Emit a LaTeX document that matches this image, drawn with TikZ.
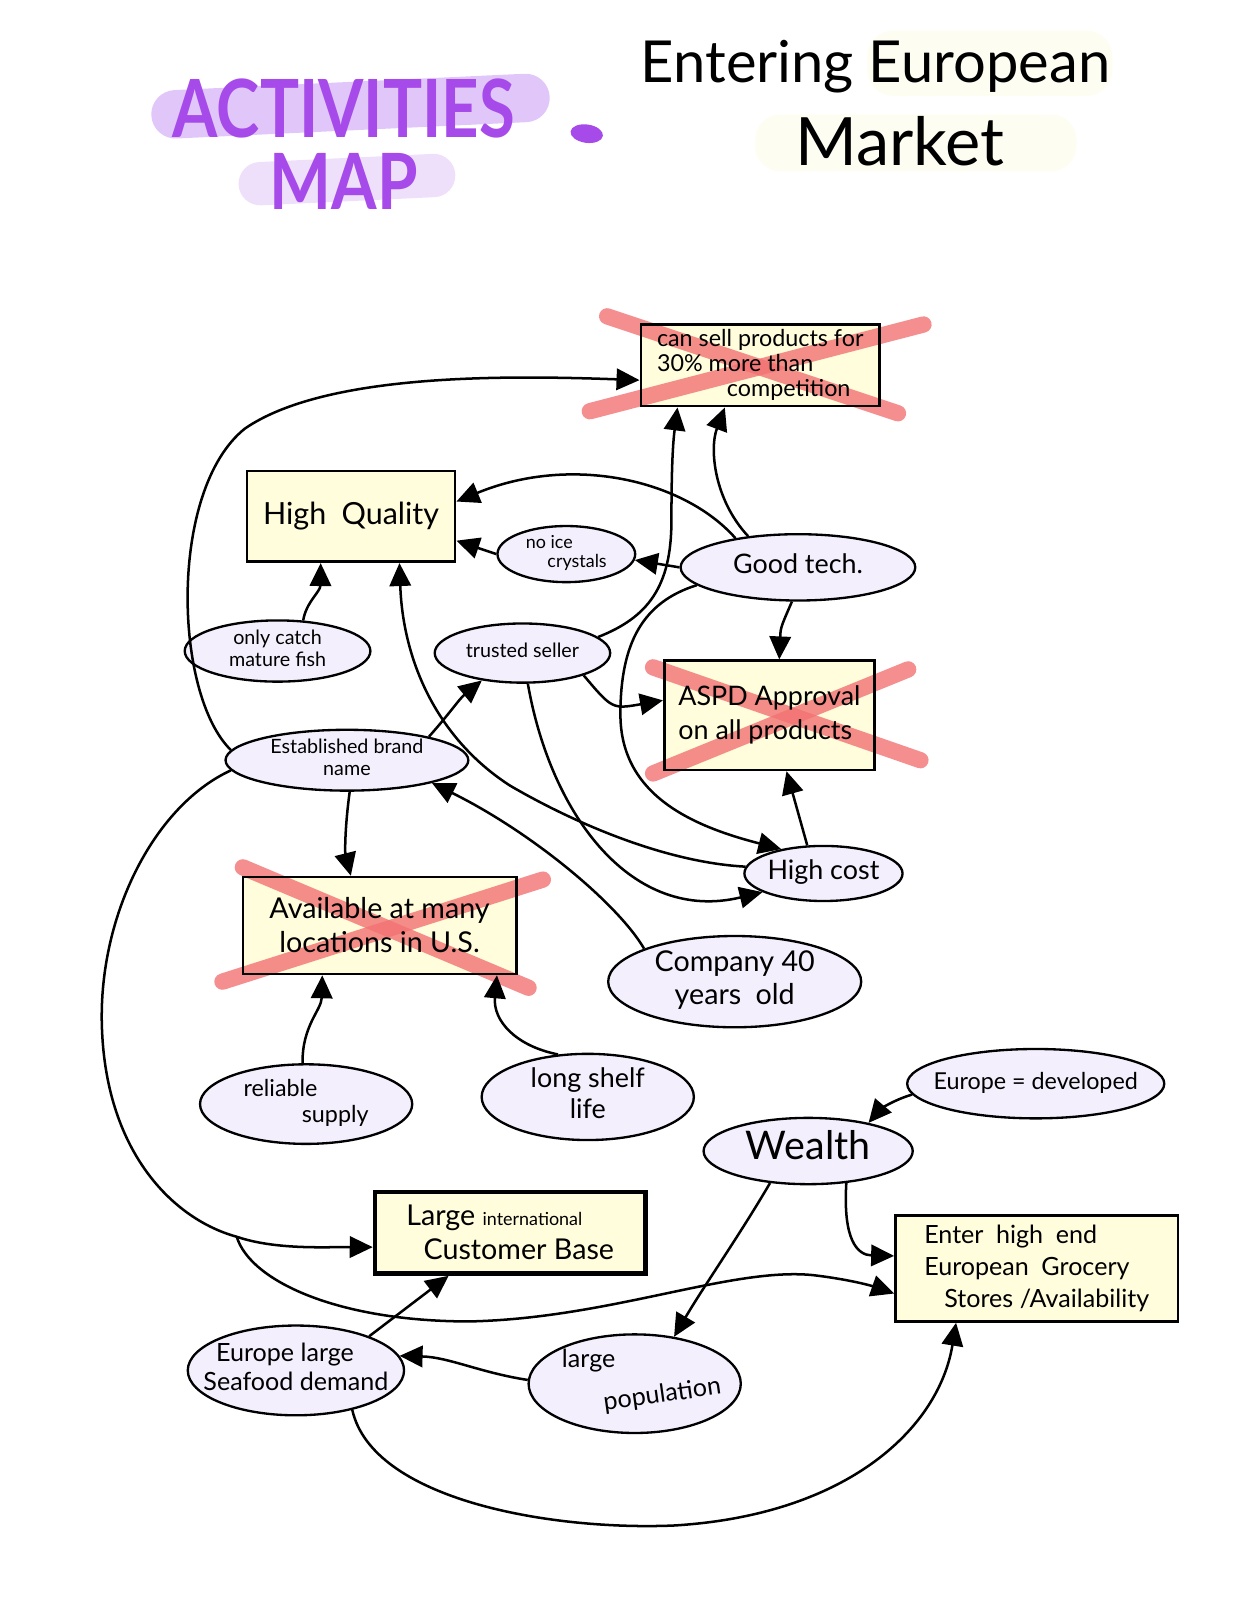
\documentclass[tikz,border=0pt]{standalone}
\usepackage{fontspec}
\setmainfont{Lato}
\usepackage{tikz}
\usetikzlibrary{shapes.geometric, arrows.meta, positioning, backgrounds, calc}
\definecolor{MapPurple}{HTML}{A64BEA}
\definecolor{MapBand}{HTML}{D9B9F7}
\definecolor{MapBandLight}{HTML}{EEE0FA}
\definecolor{TitleCream}{HTML}{FEFDF1}
\definecolor{BoxYellow}{HTML}{FFFDDC}
\definecolor{BubbleLilac}{HTML}{F4EFFC}
\definecolor{CrossRed}{HTML}{F27272}
\newcommand{\bubtext}[2][c]{\makebox[0pt]{\begin{tabular}{@{}#1@{}}#2\end{tabular}}}
\tikzset{
  box/.style={draw, line width=1.5pt, rectangle, inner sep=0pt},
  bubble/.style={draw, line width=1.3pt, ellipse, fill=BubbleLilac, inner sep=0pt},
  link/.style={-{Triangle[length=0.45cm,width=0.42cm]}, line width=1.4pt},
  crossout/.style={CrossRed, line width=0.32cm, line cap=round, opacity=0.8},
}

\begin{document}
\begin{tikzpicture}[x=0.02cm, y=-0.02cm]
\useasboundingbox (0,0) rectangle (1214,1568);
% --- Title ---
\draw[MapBand, line width=0.95cm, line cap=round, opacity=0.8] (172,112) -- (515,96);
\draw[MapBandLight, line width=0.85cm, line cap=round] (255,180) -- (425,172);
\fill[TitleCream, rounded corners=0.5cm] (850,30) rectangle (1090,94);
\fill[TitleCream, rounded corners=0.5cm] (740,112) rectangle (1055,168);
\node[text=MapPurple] (acttitle) at (337,106) {\resizebox{6.7cm}{1.15cm}{\bfseries ACTIVITIES}};
\node[text=MapPurple] (maptitle) at (337,178) {\resizebox{2.9cm}{1.1cm}{\bfseries MAP}};
\fill[MapPurple, rotate around={-8:(575,131)}] (575,131) ellipse (0.32cm and 0.18cm);
\node (enttitle) at (858,65) {\resizebox{9.2cm}{!}{Entering European}};
\node (mkttitle) at (882,138) {\resizebox{4.1cm}{!}{Market}};

% --- Boxes ---
\node[box, minimum width=4.68cm, minimum height=1.6cm, align=left, font=\fontsize{13}{14}\selectfont] (cansell) at (745,358) {can sell products for\\30\% more than\\\hspace*{3em}competition};
\node[box, minimum width=4.08cm, minimum height=1.78cm, font=\fontsize{17}{20}\selectfont] (hq) at (344,506) {High\enspace Quality};
\node[box, minimum width=4.12cm, minimum height=2.14cm, align=left, font=\fontsize{15}{19}\selectfont] (aspd) at (754,701) {ASPD Approval\\on all products};
\node[box, minimum width=5.36cm, minimum height=1.9cm, align=center, font=\fontsize{16}{19}\selectfont] (avail) at (372,907) {Available at many\\locations in U.S.};
\node[box, line width=2.6pt, minimum width=5.3cm, minimum height=1.6cm, align=left, font=\fontsize{16}{19}\selectfont] (intl) at (500,1208) {Large {\fontsize{10}{12}\selectfont international}\\\hspace*{0.6em}Customer Base};
\node[box, minimum width=5.54cm, minimum height=2.08cm, align=left, font=\fontsize{14}{18}\selectfont] (enter) at (1016,1243) {Enter\enspace high\enspace end\\European\enspace Grocery\\\hspace*{0.8em}Stores /Availability};

% --- Bubbles ---
\node[bubble, minimum width=2.7cm, minimum height=1.1cm, font=\fontsize{10}{11}\selectfont] (noice) at (555,543) {\bubtext[l]{no ice\\\hspace*{1.2em}crystals}};
\node[bubble, minimum width=4.6cm, minimum height=1.3cm, font=\fontsize{15}{18}\selectfont] (goodtech) at (782,556) {\bubtext{Good tech.}};
\node[bubble, minimum width=3.64cm, minimum height=1.2cm, font=\fontsize{11}{12}\selectfont] (onlycatch) at (272,638) {\bubtext{only catch\\mature fish}};
\node[bubble, minimum width=3.44cm, minimum height=1.16cm, font=\fontsize{11}{12}\selectfont] (trusted) at (512,640) {\bubtext{trusted seller}};
\node[bubble, minimum width=4.76cm, minimum height=1.16cm, font=\fontsize{11}{12}\selectfont] (brand) at (340,745) {\bubtext{Established brand\\name}};
\node[bubble, minimum width=3.1cm, minimum height=1.08cm, font=\fontsize{15}{18}\selectfont] (highcost) at (807,856) {\bubtext{High cost}};
\node[bubble, minimum width=4.96cm, minimum height=1.52cm, font=\fontsize{16}{18}\selectfont] (company) at (720,962) {\bubtext{Company 40\\years\enspace old}};
\node[bubble, minimum width=4.16cm, minimum height=1.56cm, font=\fontsize{13}{15}\selectfont] (reliable) at (300,1082) {\bubtext[l]{reliable\\\hspace*{2.5em}supply}};
\node[bubble, minimum width=4.16cm, minimum height=1.6cm, font=\fontsize{15}{17}\selectfont] (shelf) at (576,1075) {\bubtext{long shelf\\life}};
\node[bubble, minimum width=5.04cm, minimum height=1.36cm, font=\fontsize{13}{15}\selectfont] (eudev) at (1015,1062) {\bubtext{Europe = developed}};
\node[bubble, minimum width=4.1cm, minimum height=1.3cm, font=\fontsize{22}{24}\selectfont] (wealth) at (792,1128) {\bubtext{Wealth}};
\node[bubble, minimum width=4.24cm, minimum height=1.76cm, font=\fontsize{14}{16}\selectfont] (demand) at (290,1343) {\bubtext[l]{\hspace*{0.5em}Europe large\\Seafood demand}};
\node[bubble, minimum width=4.16cm, minimum height=1.76cm, font=\fontsize{14}{15}\selectfont] (pop) at (622,1356) {\bubtext[l]{\hspace*{0.6em}large\\\hspace*{2.2em}\rotatebox{8}{population}}};

% --- Box fills and crossed-out boxes ---
\begin{scope}[on background layer]
  \foreach \b in {cansell, hq, aspd, avail, intl, enter}
    \fill[BoxYellow] (\b.south west) rectangle (\b.north east);
  \draw[crossout] (595,310) -- (880,405);
  \draw[crossout] (578,403) -- (905,318);
  \draw[crossout] (640,654) -- (902,745);
  \draw[crossout] (640,758) -- (890,656);
  \draw[crossout] (238,850) -- (518,968);
  \draw[crossout] (218,962) -- (532,862);
\end{scope}

% --- Connectors, top part ---
\draw[link] (brand.175) .. controls (170,680) and (165,480) .. (240,420) .. controls (320,365) and (500,368) .. (cansell.187);
\draw[link] (goodtech.155) .. controls (670,470) and (560,445) .. (hq.8);
\draw[link] (noice.west) -- (hq.-13);
\draw[link] (goodtech.180) -- (noice.-5);
\draw[link] (goodtech.148) .. controls (700,490) and (695,440) .. (cansell.-130);
\draw[link] (trusted.12) .. controls (635,605) and (658,575) .. (658,510) .. controls (658,450) and (660,430) .. (cansell.-153);
\draw[link] (goodtech.190) .. controls (630,590) and (608,630) .. (608,700) .. controls (608,780) and (680,810) .. (highcost.150);
\draw[link] (goodtech.-100) .. controls (765,615) .. (aspd.80);
\draw[link] (trusted.-20) .. controls (600,695) .. (aspd.172);
\draw[link] (trusted.-80) .. controls (540,800) and (620,905) .. (highcost.-163);
\draw[link] (highcost.175) .. controls (650,845) and (560,805) .. (500,770) .. controls (430,725) and (395,650) .. (hq.-44);
\draw[link] (highcost.120) -- (aspd.-73);
\draw[link] (brand.16) .. controls (440,700) and (450,685) .. (trusted.-146);
\draw[link] (brand.-85) .. controls (338,810) and (338,835) .. (avail.120);
\draw[link] (company.160) .. controls (605,885) and (520,815) .. (brand.-15);
\draw[link] (onlycatch.50) .. controls (300,590) and (314,580) .. (hq.-123);
\draw[link] (reliable.95) .. controls (296,1005) and (315,990) .. (avail.-139);
\draw[link] (shelf.125) .. controls (505,1025) and (483,1000) .. (avail.-23);

% --- Connectors, Europe part ---
\draw[link] (eudev.185) .. controls (870,1080) and (860,1090) .. (wealth.25);
\draw[link] (wealth.-40) .. controls (826,1215) and (840,1230) .. (enter.175);
\draw[link] (wealth.-140) .. controls (725,1210) and (690,1260) .. (pop.50);
\draw[link] (pop.178) .. controls (470,1345) and (440,1330) .. (demand.8);
\draw[link] (demand.25) -- (intl.-145);
\draw[link] (demand.-35) .. controls (365,1470) and (540,1500) .. (660,1495) .. controls (830,1485) and (920,1400) .. (enter.-146);
\coordinate (split) at (232,1212);
\draw[link] (brand.185) .. controls (150,790) and (95,900) .. (100,1010) .. controls (105,1130) and (170,1195) .. (split) .. controls (270,1225) and (320,1222) .. (intl.186);
\draw[link] (split) .. controls (245,1255) and (330,1295) .. (460,1295) .. controls (600,1292) and (720,1240) .. (800,1250) .. controls (840,1255) and (860,1262) .. (enter.-170);
\end{tikzpicture}
\end{document}
